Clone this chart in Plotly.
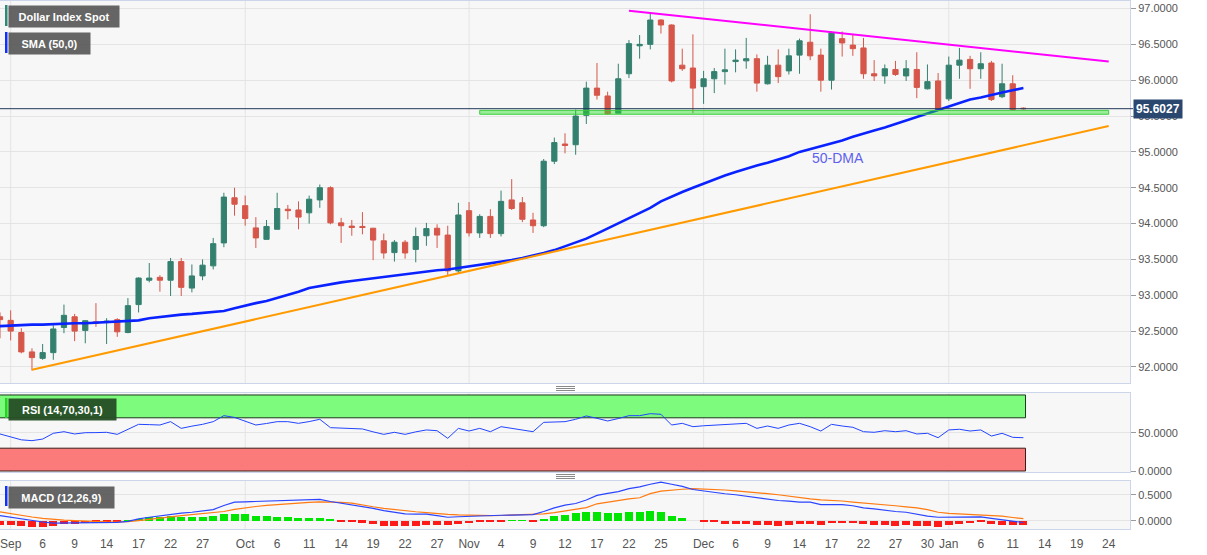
import plotly.graph_objects as go
import pandas as pd

# ---------------- data ----------------
dates = [
    "2021-08-31",
    "2021-09-01", "2021-09-02", "2021-09-03", "2021-09-06", "2021-09-07", "2021-09-08", "2021-09-09",
    "2021-09-10", "2021-09-13", "2021-09-14", "2021-09-15", "2021-09-16", "2021-09-17", "2021-09-20",
    "2021-09-21", "2021-09-22", "2021-09-23", "2021-09-24", "2021-09-27", "2021-09-28", "2021-09-29",
    "2021-09-30",
    "2021-10-01", "2021-10-04", "2021-10-05", "2021-10-06", "2021-10-07", "2021-10-08", "2021-10-11",
    "2021-10-12", "2021-10-13", "2021-10-14", "2021-10-15", "2021-10-18", "2021-10-19", "2021-10-20",
    "2021-10-21", "2021-10-22", "2021-10-25", "2021-10-26", "2021-10-27", "2021-10-28", "2021-10-29",
    "2021-11-01", "2021-11-02", "2021-11-03", "2021-11-04", "2021-11-05", "2021-11-08", "2021-11-09",
    "2021-11-10", "2021-11-11", "2021-11-12", "2021-11-15", "2021-11-16", "2021-11-17", "2021-11-18",
    "2021-11-19", "2021-11-22", "2021-11-23", "2021-11-24", "2021-11-25", "2021-11-26", "2021-11-29",
    "2021-11-30",
    "2021-12-01", "2021-12-02", "2021-12-03", "2021-12-06", "2021-12-07", "2021-12-08", "2021-12-09",
    "2021-12-10", "2021-12-13", "2021-12-14", "2021-12-15", "2021-12-16", "2021-12-17", "2021-12-20",
    "2021-12-21", "2021-12-22", "2021-12-23", "2021-12-24", "2021-12-27", "2021-12-28", "2021-12-29",
    "2021-12-30", "2021-12-31",
    "2022-01-03", "2022-01-04", "2022-01-05", "2022-01-06", "2022-01-07", "2022-01-10", "2022-01-11",
    "2022-01-12",
]

open_ = [
    92.70,
    92.65, 92.48, 92.21, 92.12, 92.20, 92.55, 92.70, 92.51, 92.63, 92.62, 92.66, 92.48, 92.87, 93.21,
    93.25, 93.21, 93.47, 93.10, 93.27, 93.41, 93.73, 94.36,
    94.25, 93.94, 93.78, 93.92, 94.20, 94.19, 94.15, 94.33, 94.50, 94.01, 93.965, 93.96, 93.935, 93.76,
    93.595, 93.74, 93.64, 93.83, 93.935, 93.84, 93.34,
    94.18, 93.87, 94.10, 93.86, 94.33, 94.29, 94.05, 93.97, 94.87, 95.11, 95.10, 95.51, 95.89, 95.78,
    95.54, 96.09, 96.48, 96.50, 96.84, 96.77, 96.21, 96.17,
    95.91, 96.02, 96.12, 96.26, 96.27, 96.30, 95.95, 96.21, 96.13, 96.35, 96.53, 96.35, 96.00, 96.58,
    96.49, 96.45, 96.09, 96.06, 96.15, 96.06, 96.15, 95.88, 95.99,
    95.74, 96.21, 96.29, 96.16, 96.24, 95.77, 95.95, 95.61,
]
high = [
    92.76,
    92.79, 92.54, 92.26, 92.32, 92.58, 92.87, 92.74, 92.65, 92.89, 92.68, 92.68, 92.96, 93.25, 93.45,
    93.28, 93.52, 93.52, 93.43, 93.50, 93.80, 94.43, 94.50,
    94.39, 94.09, 94.05, 94.43, 94.26, 94.31, 94.39, 94.545, 94.52, 94.08, 94.05, 94.16, 93.94, 93.86,
    93.77, 93.77, 93.945, 94.01, 93.99, 93.97, 94.29,
    94.30, 94.13, 94.20, 94.46, 94.62, 94.37, 94.15, 94.90, 95.20, 95.26, 95.59, 95.98, 96.24, 95.84,
    96.23, 96.56, 96.63, 96.93, 96.85, 96.78, 96.44, 96.64,
    96.13, 96.17, 96.44, 96.43, 96.59, 96.36, 96.34, 96.43, 96.44, 96.58, 96.92, 96.44, 96.68, 96.68,
    96.64, 96.59, 96.28, 96.22, 96.27, 96.28, 96.39, 96.22, 96.10,
    96.33, 96.45, 96.34, 96.39, 96.27, 96.23, 96.07, 95.62,
]
low = [
    92.40,
    92.37, 92.19, 91.95, 92.10, 92.10, 92.47, 92.36, 92.33, 92.56, 92.32, 92.42, 92.47, 92.76, 93.18,
    93.05, 92.99, 92.99, 93.04, 93.21, 93.36, 93.67, 94.11,
    93.97, 93.66, 93.78, 93.92, 94.06, 93.92, 94.00, 94.22, 93.99, 93.73, 93.83, 93.85, 93.49, 93.51,
    93.47, 93.51, 93.46, 93.69, 93.66, 93.27, 93.31,
    93.82, 93.80, 93.80, 93.82, 94.19, 94.02, 93.87, 93.95, 94.83, 94.98, 94.96, 95.39, 95.73, 95.52,
    95.54, 96.03, 96.30, 96.43, 96.65, 95.97, 96.13, 95.54,
    95.67, 95.82, 95.94, 96.11, 96.16, 95.84, 95.94, 95.96, 96.08, 96.09, 96.28, 95.84, 95.87, 96.33,
    96.34, 96.02, 95.99, 95.95, 96.06, 95.99, 95.75, 95.87, 95.575,
    95.71, 96.02, 95.88, 96.02, 95.71, 95.75, 95.575, 95.59,
]
close = [
    92.66,
    92.50, 92.21, 92.13, 92.20, 92.53, 92.72, 92.50, 92.645, 92.61, 92.64, 92.49, 92.855, 93.24, 93.24,
    93.21, 93.47, 93.11, 93.27, 93.42, 93.72, 94.37, 94.27,
    94.07, 93.80, 93.96, 94.21, 94.18, 94.09, 94.34, 94.50, 94.01, 93.97, 93.945, 93.945, 93.77, 93.59,
    93.74, 93.59, 93.82, 93.93, 93.84, 93.34, 94.12,
    93.87, 94.10, 93.86, 94.31, 94.21, 94.06, 93.97, 94.87, 95.13, 95.09, 95.50, 95.89, 95.79, 95.53,
    96.02, 96.51, 96.50, 96.84, 96.77, 95.99, 96.16, 95.89,
    96.02, 96.12, 96.145, 96.28, 96.30, 95.96, 96.21, 96.05, 96.34, 96.55, 96.34, 96.00, 96.66, 96.52,
    96.44, 96.09, 96.06, 96.16, 96.08, 96.16, 95.90, 95.98, 95.59,
    96.21, 96.28, 96.16, 96.23, 95.73, 95.95, 95.59, 95.6027,
]

sma50 = [
    92.57,
    92.58, 92.58, 92.59, 92.59, 92.60, 92.60, 92.61, 92.61, 92.62, 92.62, 92.63, 92.64, 92.65, 92.68,
    92.70, 92.72, 92.73, 92.74, 92.75, 92.76, 92.78, 92.82,
    92.86, 92.89, 92.92, 92.96, 93.00, 93.05, 93.10, 93.13, 93.16, 93.18, 93.20, 93.22, 93.24, 93.26,
    93.27, 93.29, 93.31, 93.33, 93.35, 93.36, 93.38,
    93.40, 93.42, 93.44, 93.46, 93.49, 93.52, 93.55, 93.59, 93.63, 93.68, 93.73, 93.79, 93.86, 93.93,
    94.00, 94.07, 94.14, 94.22, 94.31, 94.38, 94.44, 94.50,
    94.56, 94.62, 94.67, 94.72, 94.77, 94.81, 94.85, 94.89, 94.94, 95.00, 95.04, 95.08, 95.11, 95.16,
    95.21, 95.26, 95.30, 95.34, 95.39, 95.44, 95.49, 95.54, 95.59,
    95.64, 95.69, 95.73, 95.76, 95.80, 95.83, 95.86, 95.89,
]

rsi = [
    48.7,
    45.0, 41.0, 39.9, 42.0, 49.6, 51.7, 48.7, 50.4, 50.5, 50.9, 48.2, 55.0, 61.4, 61.0,
    60.5, 64.9, 56.1, 59.0, 61.4, 64.9, 72.8, 70.5,
    66.0, 60.5, 62.5, 64.9, 64.9, 62.7, 65.0, 68.0, 57.0, 56.5, 56.0, 55.3, 51.5, 48.2,
    50.9, 48.2, 51.5, 54.0, 53.0, 43.0, 56.1,
    52.6, 56.1, 51.7, 58.3, 56.0, 54.0, 51.7, 64.0, 64.5, 64.9, 68.0, 72.4, 69.3, 65.8,
    69.0, 72.8, 72.8, 75.4, 74.6, 60.5, 62.7, 58.3,
    59.5, 60.5, 61.0, 61.8, 62.7, 56.1, 59.2, 56.1, 60.5, 62.7, 58.3, 52.6, 61.4, 59.2,
    57.5, 51.7, 50.9, 53.0, 51.7, 53.0, 48.7, 49.6, 43.8,
    54.0, 54.9, 52.6, 54.0, 46.0, 49.6, 44.3, 43.8,
]

macd = [
    0.100,
    0.070, 0.040, 0.000, -0.020, -0.040, -0.040, -0.040, -0.035, -0.030, -0.026, -0.026, -0.010, 0.038, 0.070,
    0.100, 0.134, 0.150, 0.166, 0.190, 0.217, 0.294, 0.358,
    0.365, 0.371, 0.380, 0.385, 0.390, 0.395, 0.400, 0.410, 0.371, 0.340, 0.313, 0.280, 0.240, 0.198,
    0.160, 0.134, 0.130, 0.128, 0.100, 0.070, 0.080,
    0.090, 0.095, 0.100, 0.108, 0.110, 0.115, 0.120, 0.180, 0.250, 0.300, 0.333, 0.400, 0.487, 0.525,
    0.560, 0.615, 0.650, 0.700, 0.742, 0.700, 0.660, 0.600,
    0.570, 0.545, 0.519, 0.500, 0.473, 0.440, 0.420, 0.390, 0.377, 0.360, 0.358, 0.313, 0.313, 0.313,
    0.290, 0.250, 0.230, 0.198, 0.180, 0.166, 0.130, 0.090, 0.070,
    0.075, 0.077, 0.077, 0.077, 0.050, 0.020, -0.010, -0.030,
]
signal = [
    0.173,
    0.140, 0.100, 0.075, 0.050, 0.030, 0.015, 0.006, -0.005, -0.012, -0.018, -0.020, -0.015, 0.005, 0.025,
    0.050, 0.077, 0.100, 0.120, 0.140, 0.154, 0.180, 0.220,
    0.250, 0.275, 0.295, 0.313, 0.330, 0.345, 0.355, 0.365, 0.365, 0.355, 0.340, 0.300, 0.270, 0.240,
    0.215, 0.190, 0.175, 0.160, 0.140, 0.125, 0.115,
    0.108, 0.102, 0.100, 0.104, 0.110, 0.115, 0.120, 0.134, 0.160, 0.190, 0.217, 0.255, 0.327, 0.360,
    0.390, 0.420, 0.442, 0.520, 0.570, 0.590, 0.605, 0.615,
    0.610, 0.600, 0.590, 0.575, 0.560, 0.538, 0.520, 0.500, 0.470, 0.440, 0.420, 0.400, 0.397, 0.380,
    0.360, 0.345, 0.333, 0.310, 0.290, 0.270, 0.250, 0.215, 0.166,
    0.145, 0.134, 0.125, 0.115, 0.108, 0.090, 0.065, 0.044,
]
hist = [
    -0.083,
    -0.083, -0.100, -0.120, -0.120, -0.090, -0.064, -0.050, -0.040, -0.030, -0.020, -0.015, 0.010, 0.038, 0.070,
    0.077, 0.100, 0.083, 0.077, 0.083, 0.096, 0.140, 0.140,
    0.134, 0.100, 0.090, 0.083, 0.070, 0.058, 0.058, 0.058, 0.020, -0.005, -0.026, -0.030, -0.064, -0.090,
    -0.090, -0.100, -0.090, -0.077, -0.070, -0.083, -0.050,
    -0.040, -0.026, -0.020, -0.005, 0.003, 0.003, -0.003, 0.045, 0.090, 0.115, 0.147, 0.180, 0.173, 0.154,
    0.154, 0.173, 0.173, 0.186, 0.173, 0.100, 0.050, 0.000,
    -0.010, -0.020, -0.050, -0.050, -0.050, -0.083, -0.083, -0.096, -0.077, -0.058, -0.058, -0.083, -0.045, -0.040,
    -0.040, -0.064, -0.083, -0.083, -0.090, -0.083, -0.096, -0.096, -0.115,
    -0.077, -0.050, -0.040, -0.026, -0.064, -0.070, -0.083, -0.083,
]

tick_dates = [
    "2021-09-01", "2021-09-06", "2021-09-09", "2021-09-14", "2021-09-17", "2021-09-22", "2021-09-27",
    "2021-10-01", "2021-10-06", "2021-10-11", "2021-10-14", "2021-10-19", "2021-10-22", "2021-10-27",
    "2021-11-01", "2021-11-04", "2021-11-09", "2021-11-12", "2021-11-17", "2021-11-22", "2021-11-25",
    "2021-12-01", "2021-12-06", "2021-12-09", "2021-12-14", "2021-12-17", "2021-12-22", "2021-12-27",
    "2021-12-30", "2022-01-03", "2022-01-06", "2022-01-11", "2022-01-14", "2022-01-19", "2022-01-24",
]
tick_text = [
    "Sep", "6", "9", "14", "17", "22", "27",
    "Oct", "6", "11", "14", "19", "22", "27",
    "Nov", "4", "9", "12", "17", "22", "25",
    "Dec", "6", "9", "14", "17", "22", "27",
    "30", "Jan", "6", "11", "14", "19", "24",
]
month_starts = ["2021-09-01", "2021-10-01", "2021-11-01", "2021-12-01", "2022-01-03"]

support_dates = ["2021-09-03", "2022-01-24"]
support_vals = [91.96, 95.36]
resist_dates = ["2021-11-22", "2022-01-24"]
resist_vals = [96.97, 96.26]
zone_dates = ["2021-11-02", "2022-01-24"]
zone_vals = [95.525, 95.58]
rsi_levels = [70, 30]
dma_label_date = "2021-12-15"
dma_label_val = 94.92

# ---------------- trading-day axis ----------------
cal = pd.bdate_range(dates[0], "2022-02-28")


def pos(ds):
    return [int(i) for i in cal.get_indexer(pd.to_datetime(ds))]


xd = pos(dates)
last_price = close[-1]

GREEN = "#34806f"
RED = "#d6574a"
FONT = "Liberation Sans, Arial, sans-serif"

fig = go.Figure()

# main panel
fig.add_trace(go.Candlestick(
    x=xd, open=open_, high=high, low=low, close=close,
    increasing=dict(line=dict(color=GREEN, width=1), fillcolor=GREEN),
    decreasing=dict(line=dict(color=RED, width=1), fillcolor=RED),
    whiskerwidth=0, xaxis="x", yaxis="y", hoverinfo="skip",
))
fig.add_trace(go.Scatter(x=xd, y=sma50, mode="lines", line=dict(color="#0a22ff", width=2.6),
                         xaxis="x", yaxis="y", hoverinfo="skip"))
fig.add_trace(go.Scatter(x=pos(support_dates), y=support_vals, mode="lines",
                         line=dict(color="#ff9a00", width=2), xaxis="x", yaxis="y", hoverinfo="skip"))
fig.add_trace(go.Scatter(x=pos(resist_dates), y=resist_vals, mode="lines",
                         line=dict(color="#ff00ff", width=2), xaxis="x", yaxis="y", hoverinfo="skip"))
zx = pos(zone_dates)
fig.add_trace(go.Scatter(x=[zx[0], zx[1], zx[1], zx[0], zx[0]],
                         y=[zone_vals[0], zone_vals[0], zone_vals[1], zone_vals[1], zone_vals[0]],
                         mode="lines", fill="toself", fillcolor="rgba(40,220,40,0.45)",
                         line=dict(color="#3ccf3c", width=1), xaxis="x", yaxis="y", hoverinfo="skip"))

# RSI panel
fig.add_trace(go.Scatter(x=xd, y=rsi, mode="lines", line=dict(color="#2244ff", width=1),
                         xaxis="x2", yaxis="y2", hoverinfo="skip"))

# MACD panel
fig.add_trace(go.Bar(x=xd, y=hist, marker=dict(color=["#00e600" if h >= 0 else "#ff1a1a" for h in hist],
                                                 line=dict(width=0)),
                     width=0.75, xaxis="x3", yaxis="y3", hoverinfo="skip"))
fig.add_trace(go.Scatter(x=xd, y=signal, mode="lines", line=dict(color="#ff7a10", width=1.2),
                         xaxis="x3", yaxis="y3", hoverinfo="skip"))
fig.add_trace(go.Scatter(x=xd, y=macd, mode="lines", line=dict(color="#2a44ff", width=1.2),
                         xaxis="x3", yaxis="y3", hoverinfo="skip"))

W, H = 1207, 555
ML, MR, MT, MB = 0, 77, 1, 26
PW = W - ML - MR
PH = H - MT - MB


def py(px):
    return (H - MB - px) / PH


def pxx(px):
    return (px - ML) / PW


BORDER = "#ccd6eb"
GRID = "#e4e4e4"
xcommon = dict(range=[0.0, 106.0], showgrid=False, zeroline=False, showline=True, mirror=True,
               linecolor=BORDER, linewidth=1)
ycommon = dict(side="right", showgrid=True, gridcolor=GRID, zeroline=False, showline=True, mirror=True,
               linecolor=BORDER, linewidth=1, ticks="outside", ticklen=5, tickcolor="#9a9a9a",
               tickformat=".4f", tickfont=dict(size=11, color="#555555", family=FONT))

fig.update_layout(
    width=W, height=H, margin=dict(l=ML, r=MR, t=MT, b=MB, autoexpand=False),
    paper_bgcolor="white", plot_bgcolor="#f7f7f7", showlegend=False,
    font=dict(family=FONT),
    bargap=0,
    xaxis=dict(**xcommon, anchor="y", domain=[0, 1], showticklabels=False, rangeslider=dict(visible=False)),
    xaxis2=dict(**xcommon, anchor="y2", domain=[0, 1], matches="x", showticklabels=False),
    xaxis3=dict(**xcommon, anchor="y3", domain=[0, 1], matches="x",
                tickmode="array", tickvals=pos(tick_dates), ticktext=tick_text,
                ticks="outside", ticklen=4, tickcolor="rgba(0,0,0,0)", ticklabeloverflow="allow",
                tickfont=dict(size=12, color="#555555", family=FONT)),
    yaxis=dict(**ycommon, anchor="x", domain=[py(383), py(MT)], range=[91.776, 97.105],
               tickvals=[92.0, 92.5, 93.0, 93.5, 94.0, 94.5, 95.0, 95.5, 96.0, 96.5, 97.0]),
    yaxis2=dict(**ycommon, anchor="x2", domain=[py(472), py(393)], range=[-1.3, 102.6], tickvals=[0, 50]),
    yaxis3=dict(**ycommon, anchor="x3", domain=[0, py(481)], range=[-0.154, 0.762], tickvals=[0, 0.5]),
)

shapes = []
# month separators
for yr in ["y domain", "y2 domain", "y3 domain"]:
    for m in pos(month_starts):
        shapes.append(dict(type="line", xref="x", yref=yr, x0=m, x1=m, y0=0, y1=1,
                           line=dict(color=GRID, width=1), layer="below"))
# RSI bands
band_x0 = xd[0] - 1
band_x1 = xd[-1] + 0.2
shapes.append(dict(type="rect", xref="x2", yref="y2", x0=band_x0, x1=band_x1, y0=rsi_levels[0], y1=100,
                   fillcolor="#7cfb7c", line=dict(color="#1c3a1c", width=1), layer="below"))
shapes.append(dict(type="rect", xref="x2", yref="y2", x0=band_x0, x1=band_x1, y0=0, y1=rsi_levels[1],
                   fillcolor="#fb7b7b", line=dict(color="#3a1c1c", width=1), layer="below"))
# last price line
shapes.append(dict(type="line", xref="paper", yref="y", x0=0, x1=1.0 + 3 / PW, y0=last_price, y1=last_price,
                   line=dict(color="#22375a", width=1)))
# label accent bars
for top, bot, col in [(5, 26, "#2e8a74"), (32, 53, "#1030ff"), (398, 418, "#2ad12a"), (486, 506, "#1030ff")]:
    shapes.append(dict(type="rect", xref="paper", yref="paper", x0=pxx(5), x1=pxx(7.5), y0=py(bot), y1=py(top),
                       fillcolor=col, line=dict(width=0)))
# drag handles
for base in [386.5, 474.5]:
    for k in range(3):
        yy = py(base + 2 * k)
        shapes.append(dict(type="line", xref="paper", yref="paper", x0=pxx(556), x1=pxx(575), y0=yy, y1=yy,
                           line=dict(color="#8a8a8a", width=1)))
fig.update_layout(shapes=shapes)

annotations = []


def label_box(text, top, width, bg):
    return dict(text=text, xref="paper", yref="paper", x=pxx(7.5), y=py(top), xanchor="left", yanchor="top",
                showarrow=False, bgcolor=bg, borderpad=4, width=width, height=13, align="center",
                font=dict(size=11, color="white", family=FONT, weight="bold"))


annotations.append(label_box("Dollar Index Spot", 5, 102, "rgba(88,88,88,0.92)"))
annotations.append(label_box("SMA (50,0)", 32, 73, "rgba(88,88,88,0.92)"))
annotations.append(label_box("RSI (14,70,30,1)", 398, 99, "rgba(38,78,38,0.95)"))
annotations.append(label_box("MACD (12,26,9)", 486, 97, "rgba(88,88,88,0.92)"))
annotations.append(dict(text=f"{last_price:.4f}", xref="paper", yref="y", x=1.0 + 3 / PW, y=last_price,
                        xanchor="left", yanchor="middle", showarrow=False, bgcolor="#2a4770", borderpad=2,
                        font=dict(size=12, color="white", family=FONT, weight="bold")))
annotations.append(dict(text="50-DMA", xref="x", yref="y", x=pos([dma_label_date])[0], y=dma_label_val,
                        xanchor="left", yanchor="middle", showarrow=False,
                        font=dict(size=14, color="#6060ee", family=FONT)))
fig.update_layout(annotations=annotations)

fig.write_html("out.html", config={"displayModeBar": False},
               post_script="document.body.style.margin='0px';")
